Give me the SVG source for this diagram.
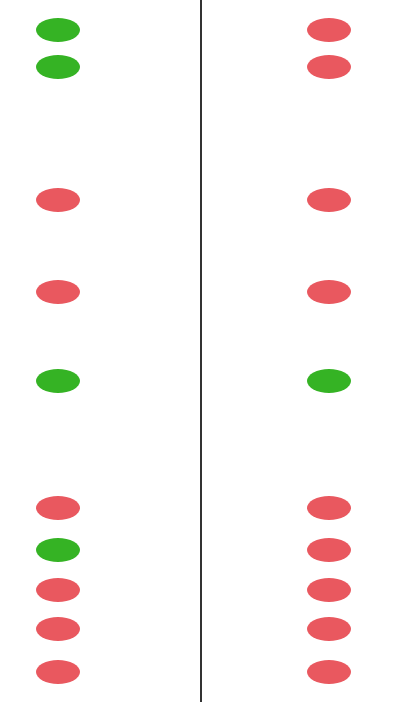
<svg xmlns="http://www.w3.org/2000/svg" width="395" height="702" viewBox="0 0 395 702">
<style>
.g{fill:#35b324}
.r{fill:#e9585f}
.ln{stroke:#333;stroke-width:2;fill:none}
</style>
<rect width="395" height="702" fill="#fff"/>
<g id="connectors"><line class="ln" x1="201" y1="0" x2="201" y2="702"/></g>
<g id="left">
<ellipse id="l1" class="g" cx="58" cy="30" rx="22" ry="12"/>
<ellipse id="l2" class="g" cx="58" cy="67" rx="22" ry="12"/>
<ellipse id="l3" class="r" cx="58" cy="200" rx="22" ry="12"/>
<ellipse id="l4" class="r" cx="58" cy="292" rx="22" ry="12"/>
<ellipse id="l5" class="g" cx="58" cy="381" rx="22" ry="12"/>
<ellipse id="l6" class="r" cx="58" cy="508" rx="22" ry="12"/>
<ellipse id="l7" class="g" cx="58" cy="550" rx="22" ry="12"/>
<ellipse id="l8" class="r" cx="58" cy="590" rx="22" ry="12"/>
<ellipse id="l9" class="r" cx="58" cy="629" rx="22" ry="12"/>
<ellipse id="l10" class="r" cx="58" cy="672" rx="22" ry="12"/>
</g>
<g id="right">
<ellipse id="r1" class="r" cx="329" cy="30" rx="22" ry="12"/>
<ellipse id="r2" class="r" cx="329" cy="67" rx="22" ry="12"/>
<ellipse id="r3" class="r" cx="329" cy="200" rx="22" ry="12"/>
<ellipse id="r4" class="r" cx="329" cy="292" rx="22" ry="12"/>
<ellipse id="r5" class="g" cx="329" cy="381" rx="22" ry="12"/>
<ellipse id="r6" class="r" cx="329" cy="508" rx="22" ry="12"/>
<ellipse id="r7" class="r" cx="329" cy="550" rx="22" ry="12"/>
<ellipse id="r8" class="r" cx="329" cy="590" rx="22" ry="12"/>
<ellipse id="r9" class="r" cx="329" cy="629" rx="22" ry="12"/>
<ellipse id="r10" class="r" cx="329" cy="672" rx="22" ry="12"/>
</g>
</svg>
